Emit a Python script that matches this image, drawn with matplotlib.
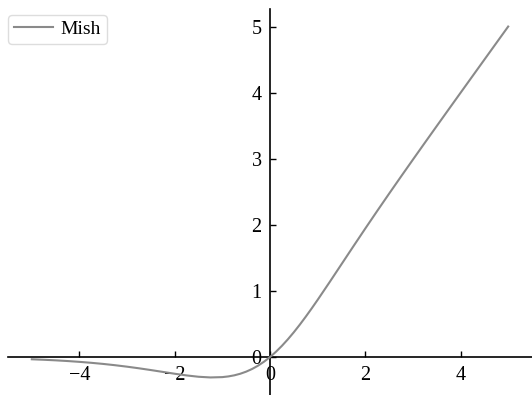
import matplotlib
matplotlib.use("Agg")
import matplotlib.pyplot as plt

# Mish activation sampled over [-5, 5]
x_vals = [-5.0, -4.75, -4.5, -4.25, -4.0, -3.75, -3.5, -3.25, -3.0, -2.75,
          -2.5, -2.25, -2.0, -1.75, -1.5, -1.25, -1.0, -0.875, -0.75, -0.625,
          -0.5, -0.375, -0.25, -0.125, 0.0, 0.125, 0.25, 0.375, 0.5, 0.625,
          0.75, 0.875, 1.0, 1.25, 1.5, 1.75, 2.0, 2.25, 2.5, 2.75,
          3.0, 3.25, 3.5, 3.75, 4.0, 4.25, 4.5, 4.75, 5.0]
mish_vals = [-0.0336, -0.0409, -0.0497, -0.0602, -0.0726, -0.0872, -0.1041, -0.1236, -0.1457, -0.1702,
             -0.1968, -0.2247, -0.2525, -0.2780, -0.2981, -0.3084, -0.3034, -0.2931, -0.2765, -0.2527,
             -0.2207, -0.1800, -0.1299, -0.0700, 0.0, 0.0800, 0.1696, 0.2683, 0.3752, 0.4895,
             0.6100, 0.7356, 0.8651, 1.1319, 1.4034, 1.6749, 1.9440, 2.2095, 2.4714, 2.7302,
             2.9865, 3.2410, 3.4940, 3.7460, 3.9974, 4.2483, 4.4989, 4.7493, 4.9996]
x_ticks = [-4, -2, 0, 2, 4]
y_ticks = [0, 1, 2, 3, 4, 5]

plt.rcParams["font.family"] = ["Liberation Serif", "DejaVu Serif"]
plt.rcParams["axes.unicode_minus"] = True

fig = plt.figure(figsize=(5.32, 3.95), dpi=100)
ax = fig.add_axes([8 / 532, 0.0, 524 / 532, 386 / 395])

ax.plot(x_vals, mish_vals, color="#8a8a8a", lw=1.5, label="Mish", zorder=3)

ax.spines["left"].set_position(("data", 0))
ax.spines["bottom"].set_position(("data", 0))
ax.spines["top"].set_visible(False)
ax.spines["right"].set_visible(False)
for s in ("left", "bottom"):
    ax.spines[s].set_linewidth(1.2)

ax.set_xticks(x_ticks)
ax.set_yticks(y_ticks)
ax.tick_params(direction="in", labelsize=14.5, length=4, width=1, colors="black")
ax.tick_params(axis="x", pad=6.5)
ax.tick_params(axis="y", pad=6)
ax.set_xlim(-5.5, 5.5)
ax.set_ylim(-0.574, 5.265)
ax.patch.set_alpha(0)

leg = ax.legend(loc="upper left", bbox_to_anchor=(0.0, 0.985), fontsize=14,
                handlelength=2.0, handletextpad=0.4, borderpad=0.3,
                borderaxespad=0.0, framealpha=1, edgecolor="#dddddd")
leg.set_zorder(5)

fig.savefig("out.png", dpi=100)
